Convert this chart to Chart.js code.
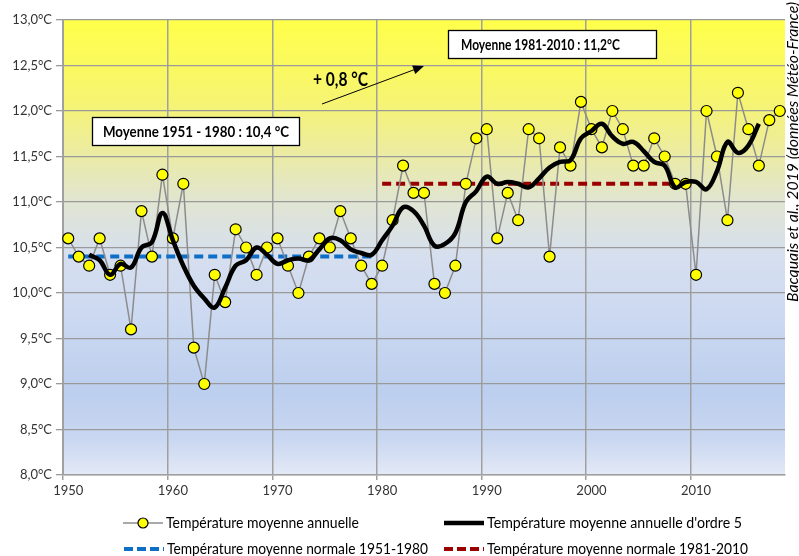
<!DOCTYPE html>
<html>
<head>
<meta charset="utf-8">
<script src="https://cdn.jsdelivr.net/npm/chart.js@4.4.1/dist/chart.umd.min.js"></script>
<style>
  html, body { margin: 0; padding: 0; background: #fff; }
  #wrap { width: 799px; height: 556px; position: relative; }
</style>
</head>
<body>
<div id="wrap"><canvas id="chart" width="799" height="556"></canvas></div>
<script>
const firstYear = 1950;
const lastYear = 2018;
const years = [];
for (let y = firstYear; y <= lastYear; y++) years.push(y);

// température moyenne annuelle 1950-2018
const annualTemps = [
  10.6, 10.4, 10.3, 10.6, 10.2, 10.3, 9.6, 10.9, 10.4, 11.3,
  10.6, 11.2, 9.4, 9.0, 10.2, 9.9, 10.7, 10.5, 10.2, 10.5,
  10.6, 10.3, 10.0, 10.4, 10.6, 10.5, 10.9, 10.6, 10.3, 10.1,
  10.3, 10.8, 11.4, 11.1, 11.1, 10.1, 10.0, 10.3, 11.2, 11.7,
  11.8, 10.6, 11.1, 10.8, 11.8, 11.7, 10.4, 11.6, 11.4, 12.1,
  11.8, 11.6, 12.0, 11.8, 11.4, 11.4, 11.7, 11.5, 11.2, 11.2,
  10.2, 12.0, 11.5, 10.8, 12.2, 11.8, 11.4, 11.9, 12.0
];

// moyenne d'ordre 5, 1952-2016
const smoothStart = 1952;
const smoothTemps = [
  10.42, 10.36, 10.20, 10.32, 10.28, 10.50, 10.56, 10.88,
  10.58, 10.30, 10.08, 9.94, 9.84, 10.06, 10.30, 10.36, 10.50, 10.42,
  10.32, 10.36, 10.38, 10.36, 10.48, 10.60, 10.58, 10.48, 10.44, 10.42,
  10.58, 10.74, 10.94, 10.90, 10.74, 10.52, 10.54, 10.66, 11.00, 11.12,
  11.28, 11.20, 11.22, 11.20, 11.16, 11.26, 11.38, 11.44, 11.46, 11.70,
  11.78, 11.86, 11.72, 11.64, 11.66, 11.56, 11.44, 11.40, 11.16, 11.22,
  11.22, 11.14, 11.34, 11.66, 11.54, 11.62, 11.86
];

const normal1 = { from: 1950, to: 1979, value: 10.4 };
const normal2 = { from: 1980, to: 2009, value: 11.2 };

const yTicks = [8.0, 8.5, 9.0, 9.5, 10.0, 10.5, 11.0, 11.5, 12.0, 12.5, 13.0];

const legendLabels = [
  'Température moyenne annuelle',
  "Température moyenne annuelle d'ordre 5",
  'Température moyenne normale 1951-1980',
  'Température moyenne normale 1981-2010'
];

const FONT = "Lato, 'Noto Sans', sans-serif";

const smoothData = years.map(y => {
  const i = y - smoothStart;
  return i >= 0 && i < smoothTemps.length ? smoothTemps[i] : null;
});
const normalData = n => years.map(y => (y >= n.from && y <= n.to) ? n.value : null);

const fmt = v => v.toFixed(1).replace('.', ',') + '°C';

// texte étroit façon Calibri : on compresse à la largeur voulue
function fitText(ctx, text, x, y, width) {
  const w = ctx.measureText(text).width;
  ctx.save();
  ctx.translate(x, y);
  ctx.scale(width / w, 1);
  ctx.fillText(text, 0, 0);
  ctx.restore();
}

const bgPlugin = {
  id: 'bg',
  beforeDraw(chart) {
    const { ctx, chartArea: a, scales } = chart;
    const ys = scales.y;
    const g = ctx.createLinearGradient(0, ys.getPixelForValue(13), 0, ys.getPixelForValue(8));
    g.addColorStop(0.00, '#ffff4a');
    g.addColorStop(0.18, '#f6f472');
    g.addColorStop(0.30, '#ebeba6');
    g.addColorStop(0.40, '#e0e5d2');
    g.addColorStop(0.52, '#d6dfef');
    g.addColorStop(0.65, '#ccd9f1');
    g.addColorStop(0.82, '#bccfee');
    g.addColorStop(0.92, '#c9d7f1');
    g.addColorStop(1.00, '#e3e9f6');
    ctx.save();
    ctx.fillStyle = g;
    ctx.fillRect(a.left, a.top, a.right - a.left, a.bottom - a.top);
    ctx.restore();
  }
};

function box(ctx, x, y, w, h, text, tx, tw) {
  ctx.fillStyle = '#fff';
  ctx.fillRect(x, y, w, h);
  ctx.strokeStyle = '#000';
  ctx.lineWidth = 1.3;
  ctx.strokeRect(x, y, w, h);
  ctx.fillStyle = '#000';
  ctx.font = "bold 15px " + FONT;
  ctx.textBaseline = 'middle';
  ctx.textAlign = 'left';
  fitText(ctx, text, tx, y + h / 2 + 1, tw);
}

const notesPlugin = {
  id: 'notes',
  afterDraw(chart) {
    const ctx = chart.ctx;
    ctx.save();
    box(ctx, 92.5, 117.5, 207, 28, 'Moyenne 1951 - 1980 : 10,4 °C', 103, 186);
    box(ctx, 448.5, 30.5, 208, 28, 'Moyenne 1981-2010 : 11,2°C', 461, 159);

    // flèche +0,8
    const x0 = 322, y0 = 104, x1 = 424, y1 = 66;
    ctx.strokeStyle = '#000';
    ctx.lineWidth = 1;
    ctx.beginPath();
    ctx.moveTo(x0, y0);
    ctx.lineTo(x1 - 9, y1 + 3.4);
    ctx.stroke();
    const ang = Math.atan2(y1 - y0, x1 - x0);
    ctx.fillStyle = '#000';
    ctx.beginPath();
    ctx.moveTo(x1, y1);
    ctx.lineTo(x1 - 11 * Math.cos(ang) + 4.5 * Math.sin(ang), y1 - 11 * Math.sin(ang) - 4.5 * Math.cos(ang));
    ctx.lineTo(x1 - 11 * Math.cos(ang) - 4.5 * Math.sin(ang), y1 - 11 * Math.sin(ang) + 4.5 * Math.cos(ang));
    ctx.closePath();
    ctx.fill();
    ctx.font = "bold 18px " + FONT;
    ctx.textAlign = 'left';
    ctx.textBaseline = 'middle';
    fitText(ctx, '+ 0,8 °C', 313, 80, 55);

    // source
    ctx.translate(793, 302);
    ctx.rotate(-Math.PI / 2);
    ctx.font = "italic 15px " + FONT;
    ctx.fillStyle = '#000';
    ctx.textAlign = 'left';
    ctx.textBaseline = 'middle';
    fitText(ctx, 'Bacquais et al., 2019 (données Météo-France)', 0, 0, 300);
    ctx.restore();

    // légende
    ctx.save();
    ctx.font = "15px " + FONT;
    ctx.fillStyle = '#000';
    ctx.textBaseline = 'middle';
    ctx.textAlign = 'left';
    const r1 = 523, r2 = 549;
    // annuelle
    ctx.strokeStyle = '#8c8c8c';
    ctx.lineWidth = 1.5;
    ctx.beginPath(); ctx.moveTo(123, r1); ctx.lineTo(163, r1); ctx.stroke();
    ctx.fillStyle = '#ffff00';
    ctx.strokeStyle = '#000';
    ctx.lineWidth = 1.2;
    ctx.beginPath(); ctx.arc(143, r1, 5, 0, Math.PI * 2); ctx.fill(); ctx.stroke();
    // ordre 5
    ctx.strokeStyle = '#000';
    ctx.lineWidth = 4.5;
    ctx.beginPath(); ctx.moveTo(444, r1); ctx.lineTo(484, r1); ctx.stroke();
    // normales
    ctx.setLineDash([9, 4]);
    ctx.lineWidth = 4;
    ctx.strokeStyle = '#0f6fc6';
    ctx.beginPath(); ctx.moveTo(124, r2); ctx.lineTo(164, r2); ctx.stroke();
    ctx.strokeStyle = '#9b0000';
    ctx.beginPath(); ctx.moveTo(444, r2); ctx.lineTo(484, r2); ctx.stroke();
    ctx.setLineDash([]);
    ctx.fillStyle = '#000';
    fitText(ctx, legendLabels[0], 166, r1, 193);
    fitText(ctx, legendLabels[1], 487, r1, 255);
    fitText(ctx, legendLabels[2], 167, r2, 261);
    fitText(ctx, legendLabels[3], 487, r2, 261);
    ctx.restore();
  }
};

new Chart(document.getElementById('chart'), {
  type: 'line',
  data: {
    labels: years,
    datasets: [
      {
        label: legendLabels[1],
        data: smoothData,
        borderColor: '#000',
        borderWidth: 4.5,
        pointRadius: 0,
        tension: 0.4,
        order: 0
      },
      {
        label: legendLabels[0],
        data: annualTemps,
        borderColor: '#8c8c8c',
        borderWidth: 1.5,
        pointRadius: 5.5,
        pointBackgroundColor: '#ffff00',
        pointBorderColor: '#000',
        pointBorderWidth: 1.2,
        tension: 0,
        order: 1
      },
      {
        label: legendLabels[2],
        data: normalData(normal1),
        borderColor: '#0f6fc6',
        borderWidth: 4,
        borderDash: [9, 5],
        pointRadius: 0,
        order: 2
      },
      {
        label: legendLabels[3],
        data: normalData(normal2),
        borderColor: '#9b0000',
        borderWidth: 4,
        borderDash: [9, 5],
        pointRadius: 0,
        order: 2
      }
    ]
  },
  options: {
    responsive: false,
    animation: false,
    layout: { padding: { top: 20, right: 14, left: 0, bottom: 51 } },
    plugins: { legend: { display: false }, tooltip: { enabled: false } },
    scales: {
      x: {
        type: 'category',
        offset: true,
        afterFit(s) { s.height = 30; },
        grid: {
          offset: true,
          color: c => (c.index % 10 === 0) ? '#a0a0a0' : 'rgba(0,0,0,0)',
          lineWidth: 1.5,
          tickLength: 5,
          drawOnChartArea: true
        },
        border: { color: '#a0a0a0', width: 1.5 },
        ticks: {
          autoSkip: false,
          maxRotation: 0,
          padding: 3,
          color: '#333',
          font: { family: FONT, size: 13 },
          callback: (v, i) => (years[i] % 10 === 0 ? String(years[i]) : '')
        }
      },
      y: {
        min: 8,
        max: 13,
        afterFit(s) { s.width = 63; },
        afterBuildTicks(s) { s.ticks = yTicks.map(v => ({ value: v })); },
        grid: {
          color: '#9a9a9a',
          lineWidth: 1.3,
          borderDash: [5, 4],
          tickBorderDash: [8, 0],
          tickLength: 7,
          tickColor: '#9a9a9a'
        },
        border: { color: '#a0a0a0', width: 2 },
        ticks: {
          padding: 4,
          color: '#333',
          font: { family: FONT, size: 13 },
          callback: v => fmt(v)
        }
      }
    }
  },
  plugins: [bgPlugin, notesPlugin]
});
</script>
</body>
</html>
